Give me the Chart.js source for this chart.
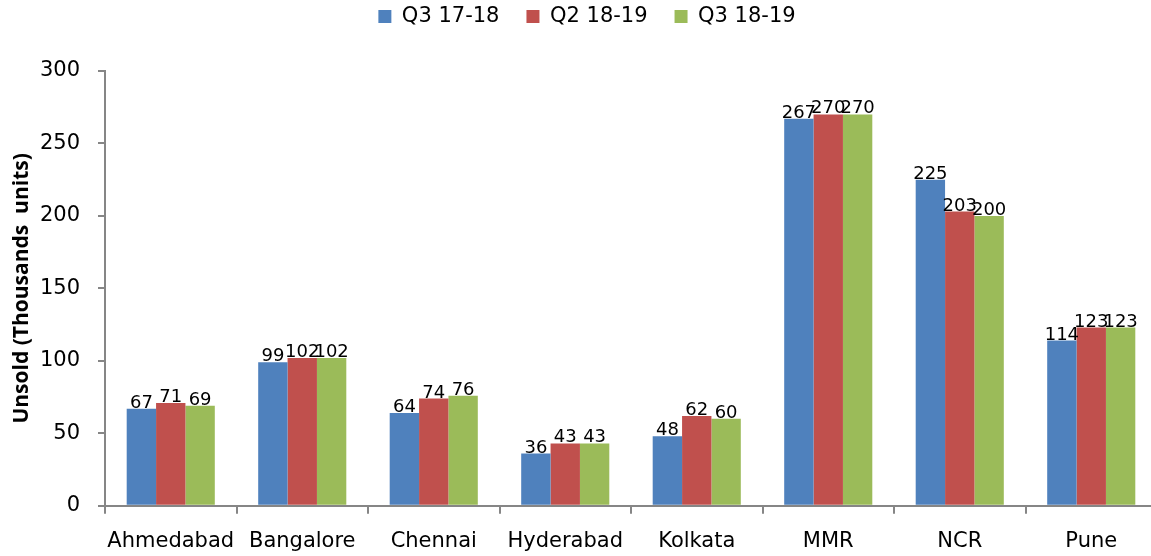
<!DOCTYPE html>
<html>
<head>
<meta charset="utf-8">
<script src="https://cdn.jsdelivr.net/npm/chart.js@4"></script>
<style>
  html, body { margin: 0; padding: 0; background: #fff; overflow: hidden; }
  #wrap { width: 1157px; height: 556px; }
</style>
</head>
<body>
<div id="wrap"><canvas id="chart"></canvas></div>
<script>
const cities = ["Ahmedabad", "Bangalore", "Chennai", "Hyderabad", "Kolkata", "MMR", "NCR", "Pune"];
const q3_1718 = [67, 99, 64, 36, 48, 267, 225, 114];
const q2_1819 = [71, 102, 74, 43, 62, 270, 203, 123];
const q3_1819 = [69, 102, 76, 43, 60, 270, 200, 123];
const yTicks = [0, 50, 100, 150, 200, 250, 300];

const FONT = "'DejaVu Sans', sans-serif";

// value labels sitting on top of each bar
const barLabels = {
  id: "barLabels",
  afterDatasetsDraw(chart) {
    const ctx = chart.ctx;
    ctx.save();
    ctx.font = "18px " + FONT;
    ctx.fillStyle = "#000";
    ctx.textAlign = "center";
    ctx.textBaseline = "alphabetic";
    chart.data.datasets.forEach((ds, i) => {
      chart.getDatasetMeta(i).data.forEach((bar, j) => {
        ctx.fillText(ds.data[j], bar.x, bar.y - 1);
      });
    });
    ctx.restore();
  }
};

// extra room under the legend
const legendGap = {
  id: "legendGap",
  beforeInit(chart) {
    const fit = chart.legend.fit;
    chart.legend.fit = function () {
      fit.call(this);
      this.height += 34;
    };
  }
};

const ctx = document.getElementById("chart").getContext("2d");
new Chart(ctx, {
  type: "bar",
  data: {
    labels: cities,
    datasets: [
      { label: "Q3 17-18", data: q3_1718, backgroundColor: "#4F81BD" },
      { label: "Q2 18-19", data: q2_1819, backgroundColor: "#C0504D" },
      { label: "Q3 18-19", data: q3_1819, backgroundColor: "#9BBB59" }
    ]
  },
  options: {
    responsive: true,
    maintainAspectRatio: false,
    animation: false,
    datasets: {
      bar: { categoryPercentage: 0.67, barPercentage: 1.0 }
    },
    layout: { padding: { top: -21, right: 0, bottom: -13, left: 17 } },
    plugins: {
      legend: {
        position: "top",
        labels: {
          font: { family: FONT, size: 21 },
          color: "#000",
          boxWidth: 13,
          boxHeight: 13,
          padding: 27
        }
      },
      tooltip: { enabled: false }
    },
    scales: {
      x: {
        grid: {
          display: true,
          drawOnChartArea: false,
          drawTicks: true,
          tickLength: 8,
          offset: true,
          color: "#868686",
          lineWidth: 2
        },
        border: { color: "#868686", width: 2 },
        ticks: { font: { family: FONT, size: 21 }, color: "#000", padding: 15, maxRotation: 0 }
      },
      y: {
        min: 0,
        max: 300,
        afterBuildTicks(axis) {
          axis.ticks = yTicks.map(v => ({ value: v }));
        },
        afterFit(axis) {
          axis.width = 88;
        },
        grid: {
          display: true,
          drawOnChartArea: false,
          drawTicks: true,
          tickLength: 7,
          color: "#868686",
          lineWidth: 2
        },
        border: { color: "#868686", width: 2 },
        ticks: { font: { family: FONT, size: 21 }, color: "#000", padding: 18 },
        title: {
          display: true,
          text: "Unsold (Thousands  units)",
          font: { family: "'Open Sans', sans-serif", size: 21, weight: "bold" },
          color: "#000",
          padding: { top: -8, bottom: 0 }
        }
      }
    }
  },
  plugins: [barLabels, legendGap]
});
</script>
</body>
</html>
